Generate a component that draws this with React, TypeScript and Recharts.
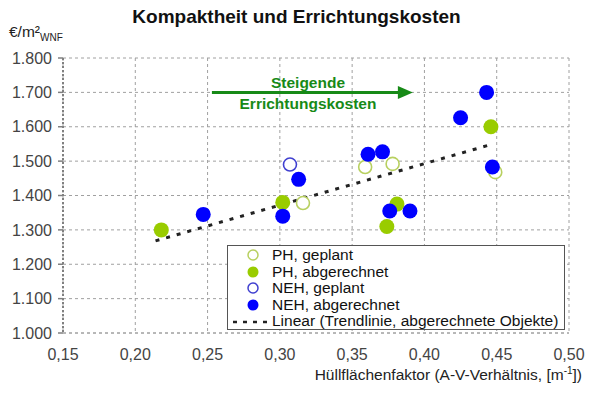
import React from 'react';
import {
  ScatterChart,
  Scatter,
  XAxis,
  YAxis,
  CartesianGrid,
  ReferenceLine,
} from 'recharts';

// Hüllflächenfaktor (A/V) and Errichtungskosten (€/m² WNF)
const phPlannedX = [0.316, 0.359, 0.378, 0.449];
const phPlannedY = [1378, 1483, 1492, 1468];

const phBilledX = [0.218, 0.302, 0.374, 0.381, 0.446];
const phBilledY = [1300, 1380, 1310, 1375, 1600];

const nehPlannedX = [0.307];
const nehPlannedY = [1490];

const nehBilledX = [0.247, 0.302, 0.313, 0.361, 0.371, 0.376, 0.39, 0.425, 0.443, 0.447];
const nehBilledY = [1345, 1340, 1447, 1520, 1527, 1355, 1355, 1626, 1700, 1483];

const trendX = [0.214, 0.445];
const trendY = [1268, 1547];

const xTicks = [0.15, 0.2, 0.25, 0.3, 0.35, 0.4, 0.45, 0.5];
const yTicks = [1000, 1100, 1200, 1300, 1400, 1500, 1600, 1700, 1800];

const arrowX = [0.253, 0.392];
const arrowY = 1700;

const GREEN = '#99cc00';
const GREEN_OPEN = '#b8d060';
const BLUE = '#0000ff';
const BLUE_OPEN = '#4040d0';
const FONT = 'Arial, "Liberation Sans", sans-serif';

const toPoints = (xs: number[], ys: number[]) => xs.map((x, i) => ({ x, y: ys[i] }));

const fmtY = (v: number) => `${Math.floor(v / 1000)}.${String(v % 1000).padStart(3, '0')}`;
const fmtX = (v: number) => v.toFixed(2).replace('.', ',');

const filled = (color: string) => (p: any) => (
  <circle cx={p.cx} cy={p.cy} r={7.5} fill={color} />
);
const hollow = (color: string) => (p: any) => (
  <circle cx={p.cx} cy={p.cy} r={6.5} fill="#fff" stroke={color} strokeWidth={1.6} />
);

const legendItems = [
  { label: 'PH, geplant', kind: 'open', color: GREEN_OPEN },
  { label: 'PH, abgerechnet', kind: 'fill', color: GREEN },
  { label: 'NEH, geplant', kind: 'open', color: BLUE_OPEN },
  { label: 'NEH, abgerechnet', kind: 'fill', color: BLUE },
  { label: 'Linear (Trendlinie, abgerechnete Objekte)', kind: 'line', color: '#222' },
];

const App: React.FC = () => {
  return (
    <div
      style={{
        position: 'absolute',
        left: 0,
        top: 0,
        width: 593,
        height: 397,
        background: '#fff',
        fontFamily: FONT,
      }}
    >
      <ScatterChart width={593} height={397} margin={{ top: 58, right: 24, bottom: 0, left: 0 }}>
        <CartesianGrid stroke="#a0a0a0" strokeDasharray="3 3" />
        <XAxis
          type="number"
          dataKey="x"
          domain={[0.15, 0.5]}
          ticks={xTicks}
          tickFormatter={fmtX}
          height={64}
          tickLine={false}
          tickSize={0}
          tickMargin={16}
          axisLine={{ stroke: '#a0a0a0', strokeDasharray: '3 3' }}
          tick={{ fill: '#444', fontSize: 16, fontFamily: FONT }}
          allowDataOverflow
        />
        <YAxis
          type="number"
          dataKey="y"
          domain={[1000, 1800]}
          ticks={yTicks}
          tickFormatter={fmtY}
          width={63}
          tickSize={5}
          tickMargin={6}
          axisLine={{ stroke: '#808080', strokeWidth: 2, strokeDasharray: '2 2' }}
          tickLine={{ stroke: '#808080', strokeWidth: 1.5 }}
          tick={{ fill: '#444', fontSize: 16, fontFamily: FONT }}
          allowDataOverflow
        />
        <ReferenceLine
          segment={[
            { x: arrowX[0], y: arrowY },
            { x: arrowX[1], y: arrowY },
          ]}
          shape={(p: any) => (
            <g>
              <line x1={p.x1} y1={p.y1} x2={p.x2 - 12} y2={p.y2} stroke="#178a17" strokeWidth={3} />
              <polygon
                points={`${p.x2},${p.y2} ${p.x2 - 15},${p.y2 - 6.5} ${p.x2 - 15},${p.y2 + 6.5}`}
                fill="#178a17"
              />
            </g>
          )}
        />
        <Scatter
          data={toPoints(trendX, trendY)}
          line={{ stroke: '#222', strokeWidth: 3, strokeDasharray: '4 7' }}
          shape={() => <g />}
          legendType="none"
          isAnimationActive={false}
        />
        <Scatter data={toPoints(phPlannedX, phPlannedY)} shape={hollow(GREEN_OPEN)} isAnimationActive={false} />
        <Scatter data={toPoints(phBilledX, phBilledY)} shape={filled(GREEN)} isAnimationActive={false} />
        <Scatter data={toPoints(nehPlannedX, nehPlannedY)} shape={hollow(BLUE_OPEN)} isAnimationActive={false} />
        <Scatter data={toPoints(nehBilledX, nehBilledY)} shape={filled(BLUE)} isAnimationActive={false} />
      </ScatterChart>

      {/* title and axis captions */}
      <div
        style={{
          position: 'absolute',
          left: 0,
          width: 593,
          top: 6,
          textAlign: 'center',
          fontSize: 19,
          fontWeight: 'bold',
          color: '#111',
        }}
      >
        Kompaktheit und Errichtungskosten
      </div>
      <div style={{ position: 'absolute', left: 9, top: 23, fontSize: 15.5, color: '#222' }}>
        €/m²<sub style={{ fontSize: 10 }}>WNF</sub>
      </div>
      <div
        style={{
          position: 'absolute',
          right: 11,
          top: 365,
          fontSize: 15.5,
          color: '#222',
          whiteSpace: 'nowrap',
        }}
      >
        Hüllflächenfaktor (A-V-Verhältnis, [m<sup style={{ fontSize: 10 }}>-1</sup>])
      </div>

      {/* annotation */}
      <div
        style={{
          position: 'absolute',
          left: 208,
          width: 200,
          top: 72,
          textAlign: 'center',
          fontSize: 15.5,
          fontWeight: 'bold',
          color: '#178a17',
          lineHeight: '21px',
        }}
      >
        Steigende
        <br />
        Errichtungskosten
      </div>

      {/* legend */}
      <div
        style={{
          position: 'absolute',
          left: 227,
          top: 245,
          width: 336,
          height: 83,
          border: '1.5px solid #555',
          background: '#fff',
          boxSizing: 'content-box',
        }}
      >
        {legendItems.map((it, i) => (
          <div
            key={it.label}
            style={{
              position: 'absolute',
              left: 0,
              top: 1 + i * 16.5,
              height: 16.5,
              display: 'flex',
              alignItems: 'center',
              whiteSpace: 'nowrap',
            }}
          >
            <svg width={44} height={16} style={{ flex: 'none' }}>
              {it.kind === 'open' && (
                <circle cx={25} cy={8} r={5} fill="#fff" stroke={it.color} strokeWidth={1.5} />
              )}
              {it.kind === 'fill' && <circle cx={25} cy={8} r={5.5} fill={it.color} />}
              {it.kind === 'line' && (
                <line x1={5} y1={9} x2={44} y2={9} stroke={it.color} strokeWidth={2.5} strokeDasharray="4 6" />
              )}
            </svg>
            <span style={{ fontSize: 15.5, color: '#111', lineHeight: '16px' }}>{it.label}</span>
          </div>
        ))}
      </div>
    </div>
  );
};

export default App;
